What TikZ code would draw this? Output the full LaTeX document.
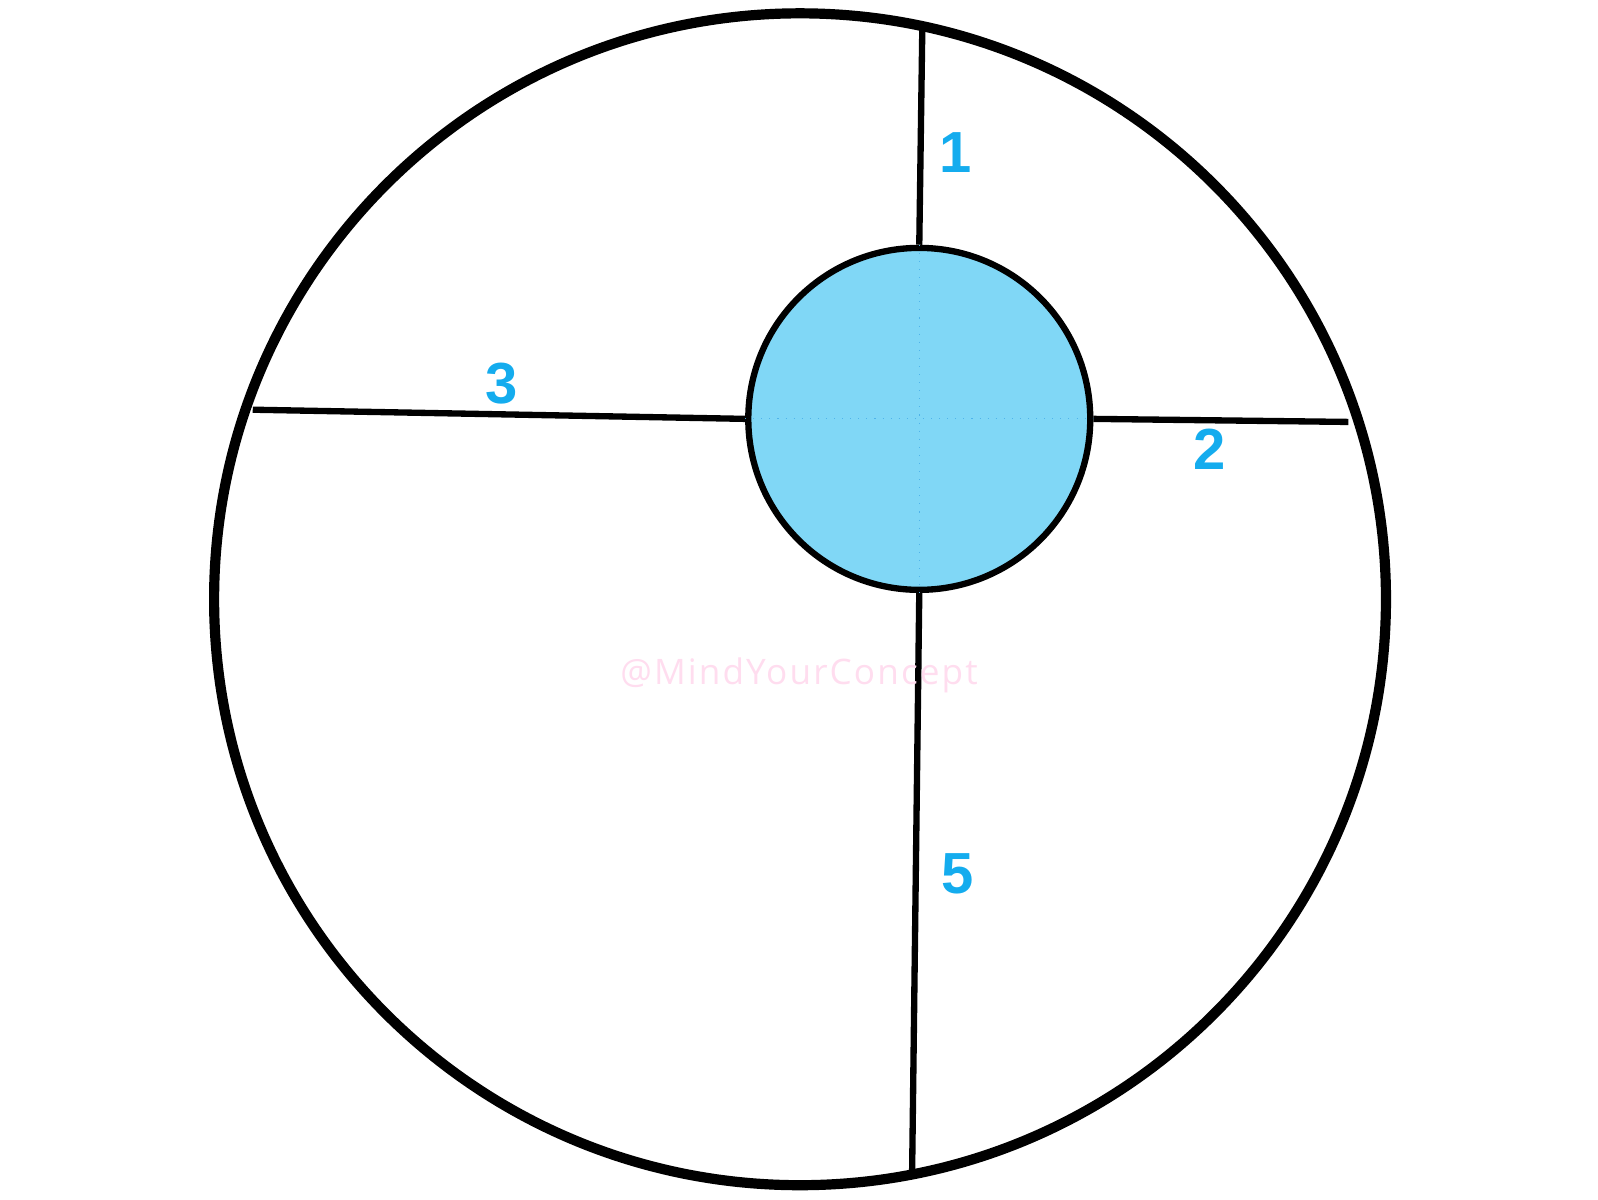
\documentclass[tikz,border=0pt]{standalone}
\usepackage{fontspec}
\setmainfont{Liberation Sans}
\newfontfamily\markfont{Open Sans}[LetterSpace=6]
\usepackage{xcolor}
\definecolor{HubBlue}{HTML}{80D7F6}
\definecolor{LabelBlue}{HTML}{14ACEE}
\definecolor{CrossBlue}{HTML}{4FB3EA}
\definecolor{MarkPink}{HTML}{FFDDEF}
\tikzset{
  spoke/.style={line width=1.8pt, black},
  spokelabel/.style={font=\fontsize{16.5}{18}\selectfont\bfseries, LabelBlue},
}

\begin{document}
\begin{tikzpicture}[x=0.010191cm, y=-0.010191cm]
                \useasboundingbox (0,0) rectangle (1568,1176.6);
                % Outer ring
                \draw[line width=2.9pt] (785,588) circle [radius=5.86cm];

                % Central disc
                \node[circle, draw, line width=1.8pt, fill=HubBlue, minimum size=3.42cm, inner sep=0pt] (hub) at (902,411) {};
                \draw[CrossBlue, line width=0.3pt, dotted] (hub.west) -- (hub.east);
                \draw[CrossBlue, line width=0.3pt, dotted] (hub.north) -- (hub.south);

                % Ends on the ring
                \coordinate (rimtop) at (905,26);
                \coordinate (rimright) at (1323,414);
                \coordinate (rimleft) at (248,402);
                \coordinate (rimbottom) at (895,1148);

                % Spokes
                \draw[spoke] (rimtop) -- (hub.north);
                \draw[spoke] (hub.east) -- (rimright);
                \draw[spoke] (rimleft) -- (hub.west);
                \draw[spoke] (hub.south) -- (rimbottom);

                % Labels
                \node[spokelabel] (one) at (938,150) {1};
                \node[spokelabel] (two) at (1187,441) {2};
                \node[spokelabel] (three) at (492,376) {3};
                \node[spokelabel] (five) at (940,857) {5};

                % Watermark
                \node[font=\markfont\fontsize{10}{12}\selectfont, MarkPink] (mark) at (784,663) {@MindYourConcept};
\end{tikzpicture}
\end{document}
